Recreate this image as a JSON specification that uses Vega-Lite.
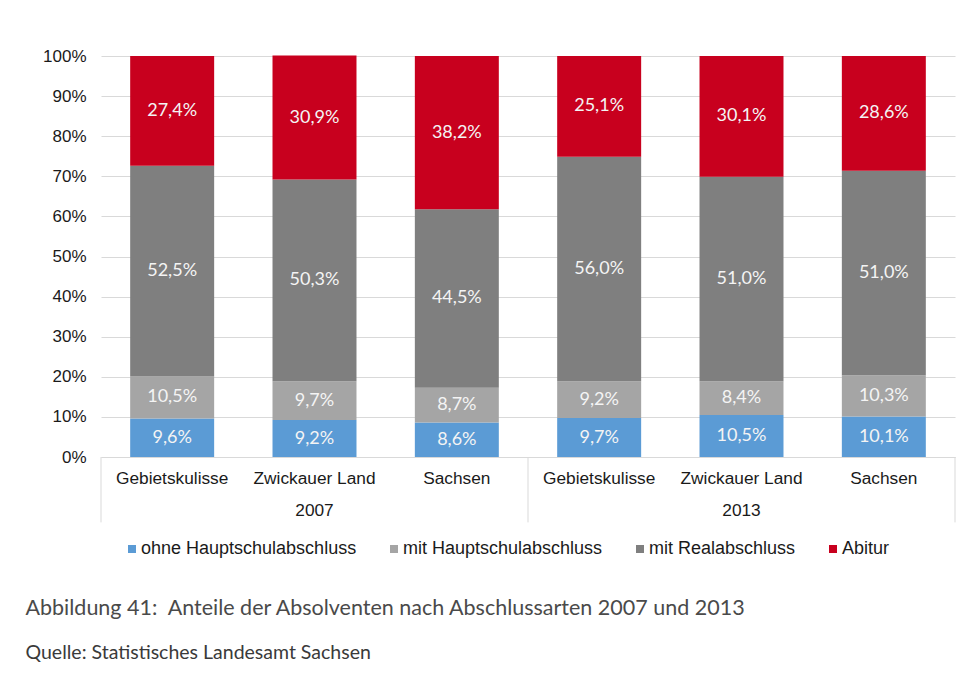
{
  "$schema": "https://vega.github.io/schema/vega-lite/v6.json",
  "width": 854,
  "height": 401,
  "autosize": {"type": "none"},
  "padding": {"left": 101, "top": 56, "right": 24, "bottom": 218},
  "background": "#ffffff",
  "title": {
    "text": "Abbildung 41:\u00a0\u00a0Anteile der Absolventen nach Abschlussarten 2007 und 2013",
    "subtitle": "Quelle: Statistisches Landesamt Sachsen",
    "orient": "bottom",
    "anchor": "start",
    "frame": "bounds",
    "offset": 40,
    "dx": -17,
    "font": "Lato",
    "fontSize": 21.5,
    "fontWeight": "normal",
    "color": "#4a4a4a",
    "subtitleFont": "Lato",
    "subtitleFontSize": 19.5,
    "subtitleColor": "#3a3a3a",
    "subtitlePadding": 24
  },
  "datasets": {
    "main": [
      {"key": "2007|Gebietskulisse", "cat": "ohne Hauptschulabschluss", "o": 1, "v": 9.6},
      {"key": "2007|Gebietskulisse", "cat": "mit Hauptschulabschluss", "o": 2, "v": 10.5},
      {"key": "2007|Gebietskulisse", "cat": "mit Realabschluss", "o": 3, "v": 52.5},
      {"key": "2007|Gebietskulisse", "cat": "Abitur", "o": 4, "v": 27.4},
      {"key": "2007|Zwickauer Land", "cat": "ohne Hauptschulabschluss", "o": 1, "v": 9.2},
      {"key": "2007|Zwickauer Land", "cat": "mit Hauptschulabschluss", "o": 2, "v": 9.7},
      {"key": "2007|Zwickauer Land", "cat": "mit Realabschluss", "o": 3, "v": 50.3},
      {"key": "2007|Zwickauer Land", "cat": "Abitur", "o": 4, "v": 30.9},
      {"key": "2007|Sachsen", "cat": "ohne Hauptschulabschluss", "o": 1, "v": 8.6},
      {"key": "2007|Sachsen", "cat": "mit Hauptschulabschluss", "o": 2, "v": 8.7},
      {"key": "2007|Sachsen", "cat": "mit Realabschluss", "o": 3, "v": 44.5},
      {"key": "2007|Sachsen", "cat": "Abitur", "o": 4, "v": 38.2},
      {"key": "2013|Gebietskulisse", "cat": "ohne Hauptschulabschluss", "o": 1, "v": 9.7},
      {"key": "2013|Gebietskulisse", "cat": "mit Hauptschulabschluss", "o": 2, "v": 9.2},
      {"key": "2013|Gebietskulisse", "cat": "mit Realabschluss", "o": 3, "v": 56.0},
      {"key": "2013|Gebietskulisse", "cat": "Abitur", "o": 4, "v": 25.1},
      {"key": "2013|Zwickauer Land", "cat": "ohne Hauptschulabschluss", "o": 1, "v": 10.5},
      {"key": "2013|Zwickauer Land", "cat": "mit Hauptschulabschluss", "o": 2, "v": 8.4},
      {"key": "2013|Zwickauer Land", "cat": "mit Realabschluss", "o": 3, "v": 51.0},
      {"key": "2013|Zwickauer Land", "cat": "Abitur", "o": 4, "v": 30.1},
      {"key": "2013|Sachsen", "cat": "ohne Hauptschulabschluss", "o": 1, "v": 10.1},
      {"key": "2013|Sachsen", "cat": "mit Hauptschulabschluss", "o": 2, "v": 10.3},
      {"key": "2013|Sachsen", "cat": "mit Realabschluss", "o": 3, "v": 51.0},
      {"key": "2013|Sachsen", "cat": "Abitur", "o": 4, "v": 28.6}
    ],
    "years": [
      {"key": "2007|Zwickauer Land", "year": "2007"},
      {"key": "2013|Zwickauer Land", "year": "2013"}
    ],
    "seps": [
      {"key": "2007|Gebietskulisse"},
      {"key": "2013|Gebietskulisse"}
    ],
    "sepEnd": [
      {"key": "2013|Sachsen"}
    ]
  },
  "config": {
    "view": {"stroke": null},
    "axis": {"labelFont": "Liberation Sans", "labelColor": "#1a1a1a"}
  },
  "layer": [
    {
      "data": {"name": "main"},
      "mark": {"type": "bar", "width": {"band": 0.59}},
      "encoding": {
        "x": {
          "field": "key",
          "type": "nominal",
          "scale": {
            "domain": ["2007|Gebietskulisse", "2007|Zwickauer Land", "2007|Sachsen", "2013|Gebietskulisse", "2013|Zwickauer Land", "2013|Sachsen"],
            "paddingInner": 0,
            "paddingOuter": 0
          },
          "axis": {
            "title": null,
            "labelAngle": 0,
            "labelExpr": "split(datum.label, '|')[1]",
            "labelFontSize": 17.3,
            "labelPadding": 12,
            "ticks": false,
            "domainColor": "#d9d9d9",
            "domainWidth": 1
          }
        },
        "y": {
          "field": "v",
          "type": "quantitative",
          "stack": "zero",
          "scale": {"domain": [0, 100], "nice": false},
          "axis": {
            "title": null,
            "values": [0, 10, 20, 30, 40, 50, 60, 70, 80, 90, 100],
            "labelExpr": "datum.value + '%'",
            "labelFontSize": 17,
            "labelPadding": 15,
            "ticks": false,
            "domain": false,
            "gridColor": "#d9d9d9",
            "gridWidth": 1
          }
        },
        "color": {
          "field": "cat",
          "type": "nominal",
          "scale": {
            "domain": ["ohne Hauptschulabschluss", "mit Hauptschulabschluss", "mit Realabschluss", "Abitur"],
            "range": ["#5b9bd5", "#a5a5a5", "#7f7f7f", "#c8001e"]
          },
          "legend": {
            "title": null,
            "orient": "none",
            "direction": "horizontal",
            "legendX": 22,
            "legendY": 484,
            "symbolType": "square",
            "symbolSize": 64,
            "symbolStrokeWidth": 0,
            "labelFont": "Liberation Sans",
            "labelFontSize": 18,
            "labelLimit": 0,
            "labelColor": "#1a1a1a",
            "labelOffset": 0,
            "columnPadding": 28,
            "padding": 0
          }
        },
        "order": {"field": "o", "type": "quantitative"}
      }
    },
    {
      "data": {"name": "main"},
      "transform": [
        {"stack": "v", "groupby": ["key"], "sort": [{"field": "o"}], "as": ["v0", "v1"]},
        {"calculate": "(datum.v0 + datum.v1) / 2", "as": "mid"},
        {"calculate": "replace(format(datum.v, '.1f'), '.', ',') + '%'", "as": "lbl"}
      ],
      "mark": {"type": "text", "font": "Lato", "fontSize": 18, "color": "#f4f4f4", "baseline": "middle", "align": "center"},
      "encoding": {
        "x": {"field": "key", "type": "nominal"},
        "y": {"field": "mid", "type": "quantitative"},
        "text": {"field": "lbl"}
      }
    },
    {
      "data": {"name": "years"},
      "mark": {"type": "text", "font": "Liberation Sans", "fontSize": 17.3, "color": "#1a1a1a", "baseline": "middle", "align": "center"},
      "encoding": {
        "x": {"field": "key", "type": "nominal"},
        "y": {"datum": -13.4},
        "text": {"field": "year"}
      }
    },
    {
      "data": {"name": "seps"},
      "mark": {"type": "rule", "color": "#d9d9d9", "strokeWidth": 1},
      "encoding": {
        "x": {"field": "key", "type": "nominal", "bandPosition": 0},
        "y": {"datum": 0},
        "y2": {"datum": -16.3}
      }
    },
    {
      "data": {"name": "sepEnd"},
      "mark": {"type": "rule", "color": "#d9d9d9", "strokeWidth": 1},
      "encoding": {
        "x": {"field": "key", "type": "nominal", "bandPosition": 1},
        "y": {"datum": 0},
        "y2": {"datum": -16.3}
      }
    }
  ]
}
